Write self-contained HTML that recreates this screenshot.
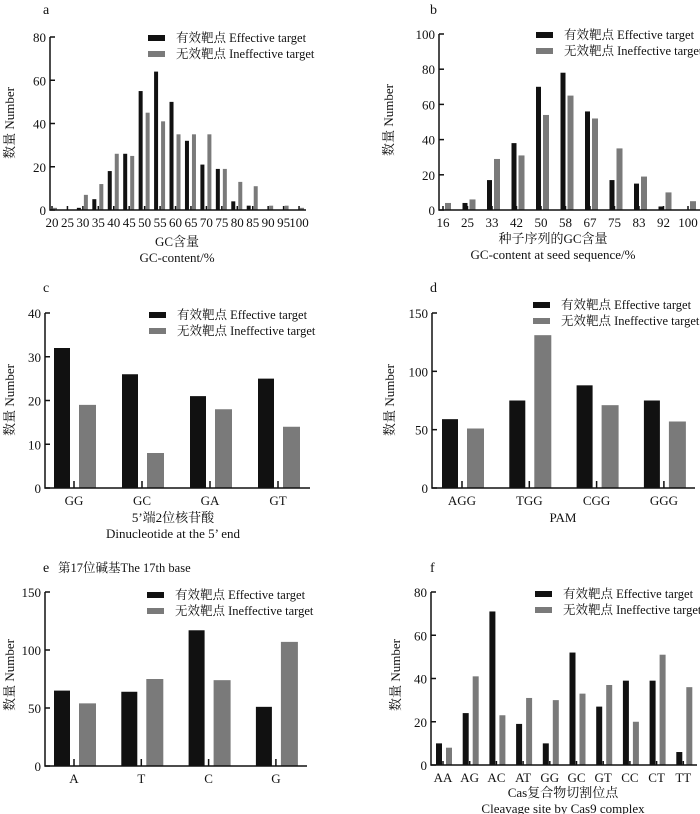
<!DOCTYPE html>
<html><head><meta charset="utf-8"><style>
body{margin:0;background:#fff}
svg{display:block;font-family:"Liberation Serif","Noto Serif CJK SC",serif}
</style></head><body>
<svg id="fig" width="700" height="814" viewBox="0 0 700 814"></svg>
<script>
// ---- data ----
const catsA=["20","25","30","35","40","45","50","55","60","65","70","75","80","85","90","95","100"];
const effA=[0,0,1,5,18,26,55,64,50,32,21,19,4,2,0,0,0];
const ineA=[1,0,7,12,26,25,45,41,35,35,35,19,13,11,2,2,1];
const catsB=["16","25","33","42","50","58","67","75","83","92","100"];
const effB=[0,4,17,38,70,78,56,17,15,2,0];
const ineB=[4,6,29,31,54,65,52,35,19,10,5];
const catsC=["GG","GC","GA","GT"];
const effC=[32,26,21,25];
const ineC=[19,8,18,14];
const catsD=["AGG","TGG","CGG","GGG"];
const effD=[59,75,88,75];
const ineD=[51,131,71,57];
const catsE=["A","T","C","G"];
const effE=[65,64,117,51];
const ineE=[54,75,74,107];
const catsF=["AA","AG","AC","AT","GG","GC","GT","CC","CT","TT"];
const effF=[10,24,71,19,10,52,27,39,39,6];
const ineF=[8,41,23,31,30,33,37,20,51,36];
const ticksA=[0,20,40,60,80];
const ticksB=[0,20,40,60,80,100];
const ticksC=[0,10,20,30,40];
const ticksD=[0,50,100,150];
const ticksE=[0,50,100,150];
const ticksF=[0,20,40,60,80];

const svg=document.getElementById('fig');
const NS="http://www.w3.org/2000/svg";
function mk(tag,at,parent){const e=document.createElementNS(NS,tag);for(const k in at)e.setAttribute(k,at[k]);(parent||svg).appendChild(e);return e;}
function txt(s,at,parent){const e=mk('text',at,parent);e.textContent=s;return e;}

function panel(p){
  const g=mk('g',{});
  
  
  const ymax=p.ticks[p.ticks.length-1];
  const ys=v=>p.y0-(v/ymax)*(p.y0-p.yTop);
  const xs=i=>p.first+i*p.step;
  // bars
  p.cats.forEach((c,i)=>{
    const cx=xs(i);
    const b=mk('rect',{x:cx+p.bo,y:ys(p.eff[i]),width:p.bw,height:p.y0-ys(p.eff[i]),fill:'#111'},g);
    
    
    const r=mk('rect',{x:cx+p.go,y:ys(p.ine[i]),width:p.gw,height:p.y0-ys(p.ine[i]),fill:'#7a7a7a'},g);
    
    
    mk('line',{x1:cx,x2:cx,y1:p.y0,y2:p.y0-p.tk,stroke:'#111','stroke-width':1.5},g);
    const l=txt(c,{x:cx,y:p.y0+17,'text-anchor':'middle','font-size':13,fill:'#111'},g);
    
    
  });
  // axes
  const ax=mk('path',{d:`M${p.x0},${p.yTop}V${p.y0}H${p.xEnd}`,fill:'none',stroke:'#111','stroke-width':1.5},g);
  
  
  p.ticks.forEach(t=>{
    mk('line',{x1:p.x0,x2:p.x0+5,y1:ys(t),y2:ys(t),stroke:'#111','stroke-width':1.5},g);
    const l=txt(String(t),{x:p.x0-4,y:ys(t)+5,'text-anchor':'end','font-size':13,fill:'#111'},g);
    
    
  });
  const yt=txt('数量 Number',{x:p.ytx,y:p.yty,'text-anchor':'middle','font-size':13,fill:'#111',transform:`rotate(-90 ${p.ytx} ${p.yty})`},g);
  
  
  // legend
  const lg=mk('g',{},g);
  
  
  mk('rect',{x:p.lx,y:p.ly,width:17,height:6,fill:'#111'},lg);
  txt('有效靶点 Effective target',{x:p.lx+28,y:p.ly+7,'font-size':12.5,fill:'#111'},lg);
  mk('rect',{x:p.lx,y:p.ly+16,width:17,height:6,fill:'#7a7a7a'},lg);
  txt('无效靶点 Ineffective target',{x:p.lx+28,y:p.ly+23,'font-size':12.5,fill:'#111'},lg);
  const tt=txt(p.title,{x:p.tx,y:p.ty,'font-size':14,fill:'#111'},g);
  
  
  (p.xl||[]).forEach((s,k)=>{
    const e=txt(s,{x:p.xlx,y:p.xly+k*16,'text-anchor':'middle','font-size':13,fill:'#111'},g);
    
    
  });
}
panel({id:'a',cats:catsA,eff:effA,ine:ineA,ticks:ticksA,x0:50,xEnd:306,y0:210,yTop:37,first:52,step:15.44,bo:-6,bw:4,go:1,gw:4,tk:4,
  lx:148,ly:35,title:'a',tx:43,ty:14,ytx:14,yty:123,xl:['GC含量','GC-content/%'],xlx:177,xly:246});
panel({id:'b',cats:catsB,eff:effB,ine:ineB,ticks:ticksB,x0:439,xEnd:700,y0:210,yTop:34,first:443,step:24.5,bo:-5,bw:5,go:2,gw:6,tk:4,
  lx:536,ly:32,title:'b',tx:430,ty:14,ytx:393,yty:120,xl:['种子序列的GC含量','GC-content at seed sequence/%'],xlx:553,xly:243});
panel({id:'c',cats:catsC,eff:effC,ine:ineC,ticks:ticksC,x0:45,xEnd:310,y0:488,yTop:313,first:74,step:68,bo:-20,bw:16,go:5,gw:17,tk:7,
  lx:149,ly:312,title:'c',tx:43,ty:292,ytx:14,yty:400,xl:["5’端2位核苷酸","Dinucleotide at the 5’ end"],xlx:173,xly:522});
panel({id:'d',cats:catsD,eff:effD,ine:ineD,ticks:ticksD,x0:432,xEnd:695,y0:488,yTop:313,first:462,step:67.3,bo:-20,bw:16,go:5,gw:17,tk:7,
  lx:533,ly:302,title:'d',tx:430,ty:292,ytx:394,yty:400,xl:['PAM'],xlx:563,xly:522});
panel({id:'e',cats:catsE,eff:effE,ine:ineE,ticks:ticksE,x0:45,xEnd:307,y0:766,yTop:592,first:74,step:67.3,bo:-20,bw:16,go:5,gw:17,tk:7,
  lx:147,ly:592,title:'e',tx:43,ty:572,ytx:14,yty:675,xl:[],xlx:0,xly:0});
panel({id:'f',cats:catsF,eff:effF,ine:ineF,ticks:ticksF,x0:431,xEnd:697,y0:765,yTop:592,first:443,step:26.7,bo:-7,bw:6,go:3,gw:6,tk:4,
  lx:535,ly:591,title:'f',tx:430,ty:572,ytx:400,yty:675,xl:['Cas复合物切割位点','Cleavage site by Cas9 complex'],xlx:563,xly:797});
const st=txt('第17位碱基The 17th base',{x:58,y:572,'font-size':12.5,fill:'#111'});


</script>
</body></html>
